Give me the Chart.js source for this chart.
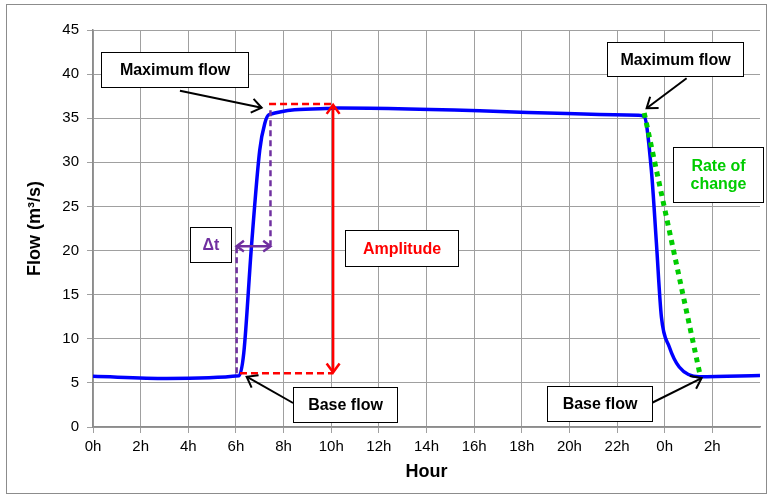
<!DOCTYPE html>
<html>
<head>
<meta charset="utf-8">
<script src="https://cdn.jsdelivr.net/npm/chart.js@4/dist/chart.umd.min.js"></script>
<style>
html, body { margin: 0; padding: 0; background: #fff; }
canvas { display: block; }
</style>
</head>
<body>
<canvas id="chart" width="771" height="495"></canvas>
<script>
'use strict';

//hydrograph: hours since midnight, flow in m3/s
const hours = [0, 3.1, 6.13, 6.33, 6.65, 7.0, 7.21, 7.39, 9.8, 10.3, 22.9, 23.14, 23.44, 23.65, 23.86, 24.19, 24.61, 25.45, 28];
const flows = [5.75, 5.5, 5.8, 8.4, 20.4, 31.4, 34.4, 35.4, 36.1, 36.15, 35.35, 35.2, 29.1, 20.9, 12.5, 9.1, 6.8, 5.7, 5.85];
const hourLabels = ['0h', '2h', '4h', '6h', '8h', '10h', '12h', '14h', '16h', '18h', '20h', '22h', '0h', '2h', ''];

const FONT = '"Liberation Sans", Arial, sans-serif';

//annotation boxes and arrows, all in data units (hour, flow)
const noteBoxes = [
	{lines: ['Maximum flow'], x: [0.32, 6.5], y: [38.5, 42.55], colour: '#000000'},
	{lines: ['Maximum flow'], x: [21.57, 27.3], y: [39.82, 43.68], colour: '#000000'},
	{lines: ['Rate of', 'change'], x: [24.36, 28.14], y: [25.54, 31.77], colour: '#00cc00'},
	{lines: ['\u0394t'], x: [4.07, 5.79], y: [18.74, 22.67], colour: '#7030a0'},
	{lines: ['Amplitude'], x: [10.58, 15.32], y: [18.28, 22.33], colour: '#ff0000'},
	{lines: ['Base flow'], x: [8.41, 12.77], y: [0.6, 4.57], colour: '#000000'},
	{lines: ['Base flow'], x: [19.05, 23.45], y: [0.71, 4.68], colour: '#000000'}
];
const pointerArrows = [
	{from: [3.65, 38.12], to: [7.08, 36.19]},
	{from: [24.92, 39.53], to: [23.24, 36.13]},
	{from: [8.40, 2.72], to: [6.45, 5.70]},
	{from: [23.45, 2.72], to: [25.55, 5.55]}
];

/** Draws a straight line with an open V head at one or both ends. */
function drawArrow(ctx, x0, y0, x1, y1, headLen, both) {
	const ang = Math.atan2(y1 - y0, x1 - x0), spread = Math.PI / 5;
	ctx.beginPath();
	ctx.moveTo(x0, y0);
	ctx.lineTo(x1, y1);
	ctx.stroke();
	const heads = both ? [[x1, y1, ang], [x0, y0, ang + Math.PI]] : [[x1, y1, ang]];
	ctx.setLineDash([]);
	for (const [hx, hy, a] of heads) {
		ctx.beginPath();
		ctx.moveTo(hx - headLen * Math.cos(a - spread), hy - headLen * Math.sin(a - spread));
		ctx.lineTo(hx, hy);
		ctx.lineTo(hx - headLen * Math.cos(a + spread), hy - headLen * Math.sin(a + spread));
		ctx.stroke();
	}
}

const plugins = [
	{
		id: 'frame',
		beforeDraw: chart => {
			const {ctx} = chart;
			ctx.save();
			ctx.fillStyle = '#ffffff';
			ctx.fillRect(0, 0, chart.width, chart.height);
			ctx.strokeStyle = '#8c8c8c';
			ctx.lineWidth = 1;
			ctx.strokeRect(6.5, 4.5, 760, 489);
			ctx.restore();
		}
	},
	{
		id: 'notes',
		afterDatasetsDraw: chart => {
			const {ctx} = chart;
			const sx = v => chart.scales.x.getPixelForValue(v);
			const sy = v => chart.scales.y.getPixelForValue(v);
			ctx.save();
			ctx.lineCap = 'butt';

			//red amplitude markers
			ctx.strokeStyle = '#ff0000';
			ctx.lineWidth = 2.5;
			ctx.setLineDash([7, 4]);
			ctx.beginPath();
			ctx.moveTo(sx(7.39), sy(36.6)); ctx.lineTo(sx(10.08), sy(36.6));
			ctx.moveTo(sx(6.17), sy(6.1)); ctx.lineTo(sx(10.08), sy(6.1));
			ctx.stroke();
			ctx.setLineDash([]);
			drawArrow(ctx, sx(10.08), sy(6.2), sx(10.08), sy(36.5), 11, true);

			//purple delta t markers
			ctx.strokeStyle = '#7030a0';
			ctx.lineWidth = 2.5;
			ctx.setLineDash([6, 4]);
			ctx.beginPath();
			ctx.moveTo(sx(6.03), sy(6.1)); ctx.lineTo(sx(6.03), sy(20.6));
			ctx.moveTo(sx(7.45), sy(35.9)); ctx.lineTo(sx(7.45), sy(20.6));
			ctx.stroke();
			ctx.setLineDash([]);
			drawArrow(ctx, sx(6.03), sy(20.5), sx(7.45), sy(20.5), 9, true);

			//green rate of change
			ctx.strokeStyle = '#00cc00';
			ctx.lineWidth = 5;
			ctx.setLineDash([5, 5]);
			ctx.beginPath();
			ctx.moveTo(sx(23.14), sy(35.6)); ctx.lineTo(sx(25.5), sy(5.7));
			ctx.stroke();
			ctx.setLineDash([]);

			//black pointers
			ctx.strokeStyle = '#000000';
			ctx.lineWidth = 2;
			for (const arr of pointerArrows) {
				drawArrow(ctx, sx(arr.from[0]), sy(arr.from[1]), sx(arr.to[0]), sy(arr.to[1]), 12, false);
			}

			//labelled boxes
			ctx.font = 'bold 16px ' + FONT;
			ctx.textAlign = 'center';
			ctx.textBaseline = 'middle';
			for (const box of noteBoxes) {
				const x0 = Math.round(sx(box.x[0])) + 0.5, x1 = Math.round(sx(box.x[1])) + 0.5;
				const y0 = Math.round(sy(box.y[1])) + 0.5, y1 = Math.round(sy(box.y[0])) + 0.5;
				ctx.fillStyle = '#ffffff';
				ctx.fillRect(x0, y0, x1 - x0, y1 - y0);
				ctx.strokeStyle = '#000000';
				ctx.lineWidth = 1;
				ctx.strokeRect(x0, y0, x1 - x0, y1 - y0);
				ctx.fillStyle = box.colour;
				const lh = 18, cy = (y0 + y1) / 2 - (box.lines.length - 1) * lh / 2;
				box.lines.forEach((line, idx) => ctx.fillText(line, (x0 + x1) / 2, cy + idx * lh + 1));
			}
			ctx.restore();
		}
	}
];

const chart = new Chart(document.getElementById('chart'), {
	type: 'line',
	data: {
		datasets: [{
			data: hours.map((h, idx) => ({x: h, y: flows[idx]})),
			borderColor: '#0000ff',
			borderWidth: 3.5,
			pointRadius: 0,
			cubicInterpolationMode: 'monotone',
			fill: false
		}]
	},
	options: {
		responsive: false,
		animation: false,
		devicePixelRatio: 1,
		layout: {
			autoPadding: false,
			padding: {left: 0, right: 11, top: 30, bottom: 0}
		},
		plugins: {
			legend: {display: false},
			tooltip: {enabled: false}
		},
		scales: {
			x: {
				type: 'linear',
				min: 0,
				max: 28,
				afterFit: scale => { scale.height = 68; },
				grid: {
					color: ctx => (ctx.tick && ctx.tick.value === 28) ? 'rgba(0,0,0,0)' : '#a0a0a0',
					lineWidth: 1,
					tickLength: 6
				},
				border: {color: '#8c8c8c', width: 1.5},
				ticks: {
					stepSize: 2,
					autoSkip: false,
					maxRotation: 0,
					padding: 5,
					color: '#000000',
					font: {family: FONT, size: 15},
					callback: value => hourLabels[Math.round(value / 2)]
				},
				title: {
					display: true,
					text: 'Hour',
					color: '#000000',
					font: {family: FONT, size: 18, weight: 'bold'},
					padding: {top: 0, bottom: 12}
				}
			},
			y: {
				min: 0,
				max: 45,
				afterFit: scale => { scale.width = 93; },
				grid: {
					color: '#a0a0a0',
					lineWidth: 1,
					tickLength: 6
				},
				border: {color: '#8c8c8c', width: 1.5},
				ticks: {
					stepSize: 5,
					padding: 8,
					color: '#000000',
					font: {family: FONT, size: 15}
				},
				title: {
					display: true,
					text: 'Flow (m\u00b3/s)',
					color: '#000000',
					font: {family: FONT, size: 18, weight: 'bold'},
					padding: {top: 24, bottom: 0}
				}
			}
		}
	},
	plugins: plugins
});
</script>
</body>
</html>
